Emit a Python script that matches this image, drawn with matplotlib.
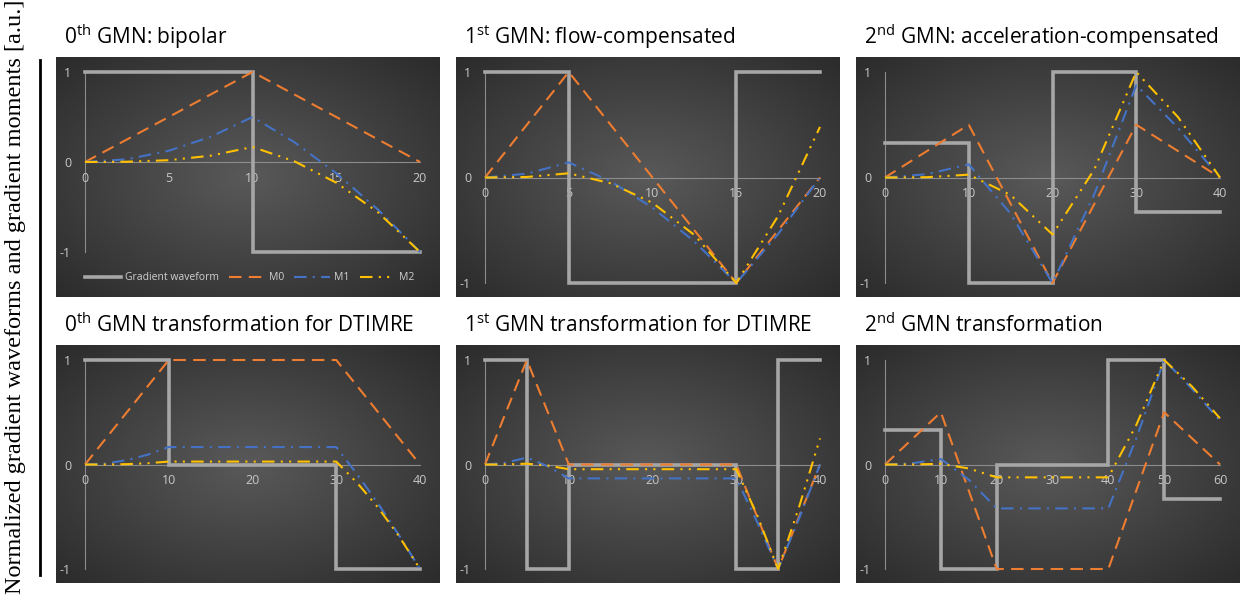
import numpy as np
import matplotlib.pyplot as plt
from matplotlib.lines import Line2D

plt.rcParams['font.family'] = ['Open Sans', 'DejaVu Sans']
plt.rcParams['mathtext.fontset'] = 'custom'
plt.rcParams['mathtext.rm'] = 'Open Sans'

titles = [r"0$^{\mathrm{th}}$ GMN: bipolar",
          r"1$^{\mathrm{st}}$ GMN: flow-compensated",
          r"2$^{\mathrm{nd}}$ GMN: acceleration-compensated",
          r"0$^{\mathrm{th}}$ GMN transformation for DTIMRE",
          r"1$^{\mathrm{st}}$ GMN transformation for DTIMRE",
          r"2$^{\mathrm{nd}}$ GMN transformation"]

# 0th GMN: bipolar
p1_g_t = [0, 10, 20]
p1_g = [1, -1, -1]
p1_t = [0, 2.5, 5, 7.5, 10, 12.5, 15, 17.5, 20]
p1_m0 = [0, 0.25, 0.5, 0.75, 1, 0.75, 0.5, 0.25, 0]
p1_m1 = [0, 0.03, 0.125, 0.28, 0.5, 0.22, -0.125, -0.53, -1]
p1_m2 = [0, 0.003, 0.02, 0.07, 0.167, 0.008, -0.23, -0.56, -1]
p1_xticks = [0, 5, 10, 15, 20]

# 1st GMN: flow-compensated
p2_g_t = [0, 5, 15, 20]
p2_g = [1, -1, 1, 1]
p2_t = [0, 2.5, 5, 7.5, 10, 12.5, 15, 17.5, 20]
p2_m0 = [0, 0.5, 1, 0.5, 0, -0.5, -1, -0.5, 0]
p2_m1 = [0, 0.036, 0.143, -0.036, -0.286, -0.607, -1, -0.536, 0]
p2_m2 = [0, 0.005, 0.04, -0.055, -0.24, -0.545, -1, -0.365, 0.48]
p2_xticks = [0, 5, 10, 15, 20]

# 2nd GMN: acceleration-compensated
p3_g_t = [0, 10, 20, 30, 40]
p3_g = [0.33, -1, 1, -0.33, -0.33]
p3_t = [0, 5, 10, 15, 20, 25, 30, 35, 40]
p3_m0 = [0, 0.25, 0.5, -0.25, -1, -0.25, 0.5, 0.25, 0]
p3_m1 = [0, 0.031, 0.125, -0.344, -1, -0.156, 0.875, 0.469, 0]
p3_m2 = [0, 0.003, 0.027, -0.166, -0.54, 0.078, 1, 0.571, 0]
p3_xticks = [0, 10, 20, 30, 40]

# 0th GMN transformation for DTIMRE
p4_g_t = [0, 10, 30, 40]
p4_g = [1, 0, -1, -1]
p4_t = [0, 2.5, 5, 7.5, 10, 20, 30, 32.5, 35, 37.5, 40]
p4_m0 = [0, 0.25, 0.5, 0.75, 1, 1, 1, 0.75, 0.5, 0.25, 0]
p4_m1 = [0, 0.01, 0.042, 0.094, 0.167, 0.167, 0.167, -0.094, -0.375, -0.677, -1]
p4_m2 = [0, 0.0004, 0.0035, 0.012, 0.028, 0.028, 0.028, -0.176, -0.413, -0.687, -1]
p4_xticks = [0, 10, 20, 30, 40]

# 1st GMN transformation for DTIMRE
p5_g_t = [0, 5, 10, 30, 35, 40]
p5_g = [1, -1, 0, -1, 1, 1]
p5_t = [0, 2.5, 5, 7.5, 10, 30, 32.5, 35, 37.5, 40]
p5_m0 = [0, 0.5, 1, 0.5, 0, 0, -0.5, -1, -0.5, 0]
p5_m1 = [0, 0.017, 0.067, -0.017, -0.133, -0.133, -0.55, -1, -0.517, 0]
p5_m2 = [0, 0.001, 0.0075, -0.01, -0.045, -0.045, -0.486, -1, -0.407, 0.25]
p5_xticks = [0, 10, 20, 30, 40]

# 2nd GMN transformation
p6_g_t = [0, 10, 20, 40, 50, 60]
p6_g = [0.33, -1, 0, 1, -0.33, -0.33]
p6_t = [0, 5, 10, 15, 20, 40, 45, 50, 55, 60]
p6_m0 = [0, 0.25, 0.5, -0.25, -1, -1, -0.25, 0.5, 0.25, 0]
p6_m1 = [0, 0.013, 0.053, -0.145, -0.42, -0.42, 0.25, 1, 0.724, 0.42]
p6_m2 = [0, 0.001, 0.006, -0.038, -0.123, -0.123, 0.377, 1, 0.746, 0.442]
p6_xticks = [0, 10, 20, 30, 40, 50, 60]

panels = [
    (p1_g_t, p1_g, p1_t, p1_m0, p1_m1, p1_m2, p1_xticks),
    (p2_g_t, p2_g, p2_t, p2_m0, p2_m1, p2_m2, p2_xticks),
    (p3_g_t, p3_g, p3_t, p3_m0, p3_m1, p3_m2, p3_xticks),
    (p4_g_t, p4_g, p4_t, p4_m0, p4_m1, p4_m2, p4_xticks),
    (p5_g_t, p5_g, p5_t, p5_m0, p5_m1, p5_m2, p5_xticks),
    (p6_g_t, p6_g, p6_t, p6_m0, p6_m1, p6_m2, p6_xticks),
]

W, H = 1247, 597
fig = plt.figure(figsize=(W / 100, H / 100), dpi=100)


def px_axes(x0, y0, x1, y1):
    return fig.add_axes([x0 / W, 1 - y1 / H, (x1 - x0) / W, (y1 - y0) / H])


# radial background shading
yy, xx = np.mgrid[-1:1:200j, -1:1:300j]
rr = np.sqrt(xx ** 2 + yy ** 2) / np.sqrt(2)
shade = 0.35 - 0.18 * rr

gray = '#a6a6a6'
orange = '#ED7D31'
blue = '#4472C4'
yellow = '#FFC000'
tickcol = '#c8c8c8'

cols = [(56, 440), (456, 840), (856, 1240)]
rows = [(57, 297), (345, 583)]

for i, (g_t, g, t, m0, m1, m2, xticks) in enumerate(panels):
    bx0, bx1 = cols[i % 3]
    by0, by1 = rows[i // 3]
    bg = px_axes(bx0, by0, bx1, by1)
    bg.imshow(shade, cmap='gray', vmin=0, vmax=1, extent=[0, 1, 0, 1],
              aspect='auto', interpolation='bicubic')
    bg.set_axis_off()

    top = by0 + 15
    bottom = by1 - 14
    if i == 0:
        bottom = 252
    ax = px_axes(bx0 + 29, top, bx1 - 20, bottom)
    ax.patch.set_visible(False)
    ax.set_xlim(0, xticks[-1])
    ax.set_ylim(-1, 1)

    ax.step(g_t, g, where='post', color=gray, lw=2.6, clip_on=False,
            label='Gradient waveform', solid_joinstyle='miter')
    ax.plot(t, m0, color=orange, lw=1.5, dashes=(6, 3.5), clip_on=False, label='M0')
    ax.plot(t, m1, color=blue, lw=1.5, dashes=(6, 3, 1, 3), clip_on=False, label='M1')
    ax.plot(t, m2, color=yellow, lw=1.5, dashes=(6, 3, 1, 3, 1, 3),
            clip_on=False, label='M2')

    for s in ['top', 'right']:
        ax.spines[s].set_visible(False)
    ax.spines['bottom'].set_position(('data', 0))
    ax.spines['left'].set_position(('data', 0))
    for s in ['bottom', 'left']:
        ax.spines[s].set_color('#8c8c8c')
        ax.spines[s].set_linewidth(0.8)
        ax.spines[s].set_zorder(0.5)
    ax.set_xticks(xticks)
    ax.set_yticks([-1, 0, 1])
    ax.set_yticklabels(['-1', '0', '1'])
    ax.tick_params(length=0, colors=tickcol, labelsize=9)
    ax.tick_params(axis='x', pad=7)
    ax.tick_params(axis='y', pad=10)

    fig.text((bx0 + 8) / W, 1 - (by0 - 13) / H, titles[i], fontsize=15,
             color='black', va='baseline', ha='left')

    if i == 0:
        handles, labels = ax.get_legend_handles_labels()
        fig.legend(handles, labels, loc='center', bbox_to_anchor=(250 / W, 1 - 278 / H),
                   ncol=4, frameon=False, fontsize=7.5, labelcolor='#d0d0d0',
                   handlelength=3.4, columnspacing=1.0, handletextpad=0.4)

fig.add_artist(Line2D([40 / W, 40 / W], [1 - 60 / H, 1 - 575 / H], color='black', lw=2))
fig.text(16 / W, 1 - 297 / H, 'Normalized gradient waveforms and gradient moments [a.u.]',
         rotation=90, ha='center', va='center', fontsize=17.5,
         family=['Liberation Serif', 'DejaVu Serif'])

fig.savefig('out.png', dpi=100)
